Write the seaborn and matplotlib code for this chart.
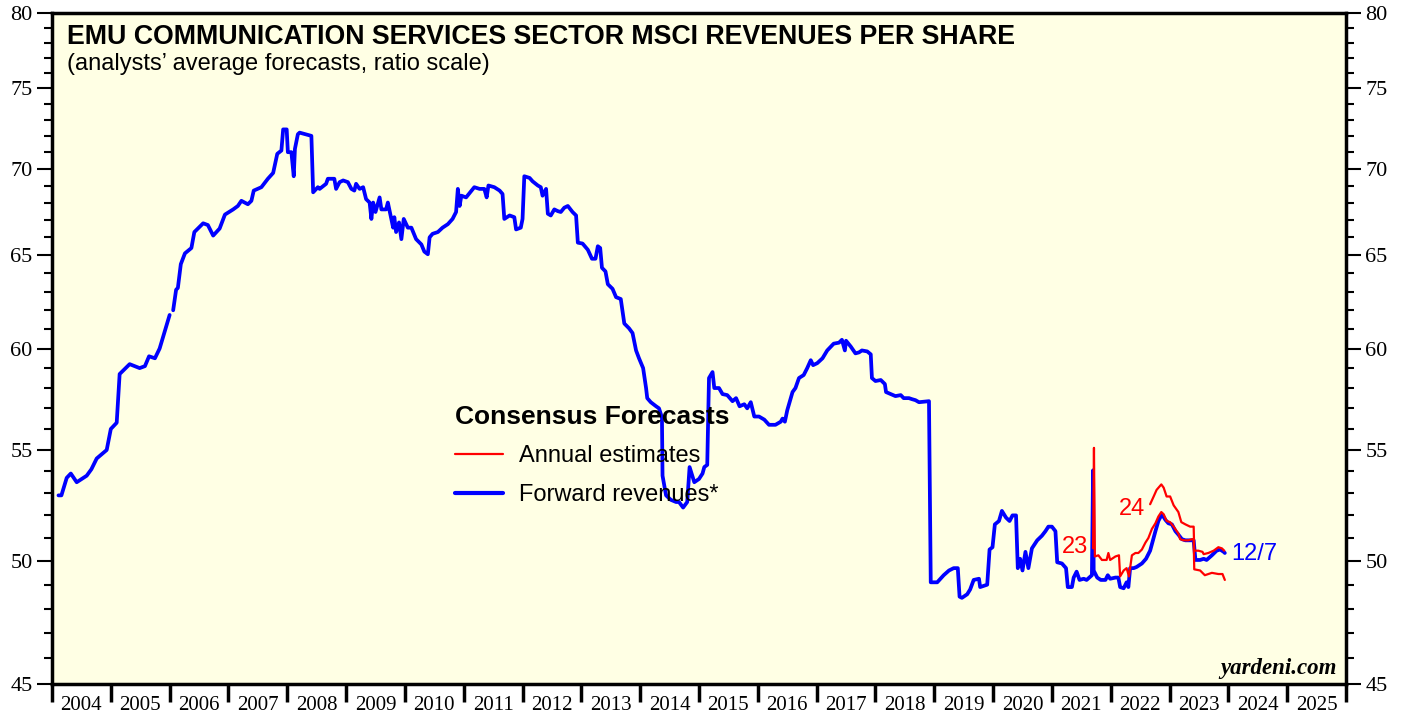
import numpy as np
import pandas as pd
import matplotlib.pyplot as plt
import seaborn as sns
from matplotlib.lines import Line2D
from matplotlib.ticker import FixedLocator, NullFormatter, FixedFormatter

sns.set_style("ticks")
plt.rcParams['font.family'] = ['Liberation Sans', 'DejaVu Sans']
plt.rcParams['text.color'] = 'black'
plt.rcParams['xtick.color'] = 'black'
plt.rcParams['ytick.color'] = 'black'

# forward revenues per share (weekly)
fwd_years = [2004.11, 2004.16, 2004.25, 2004.32, 2004.42, 2004.59, 2004.67, 2004.76, 2004.93, 2005.00,
             2005.10, 2005.15, 2005.32, 2005.49, 2005.58, 2005.65, 2005.75, 2005.83, 2006.00,
             2006.06, 2006.11, 2006.14, 2006.19, 2006.26, 2006.37, 2006.42, 2006.57, 2006.65, 2006.74,
             2006.85, 2006.94, 2007.08, 2007.16, 2007.22, 2007.33, 2007.39, 2007.43, 2007.56, 2007.67,
             2007.76, 2007.83, 2007.90, 2007.93, 2007.99, 2008.01, 2008.07, 2008.11, 2008.13, 2008.18,
             2008.21, 2008.41, 2008.44, 2008.52, 2008.55, 2008.66, 2008.69, 2008.80, 2008.83, 2008.89,
             2008.95, 2009.03, 2009.09, 2009.14, 2009.17, 2009.23, 2009.29, 2009.34, 2009.40, 2009.43,
             2009.46, 2009.50, 2009.57, 2009.60, 2009.68, 2009.71, 2009.77, 2009.80, 2009.82, 2009.85,
             2009.90, 2009.94, 2009.98, 2010.05, 2010.11, 2010.19, 2010.28, 2010.33, 2010.39, 2010.42,
             2010.47, 2010.56, 2010.64, 2010.73, 2010.81, 2010.87, 2010.90, 2010.93, 2010.96, 2011.04,
             2011.18, 2011.27, 2011.35, 2011.39, 2011.42, 2011.52, 2011.61, 2011.66, 2011.69, 2011.78,
             2011.86, 2011.89, 2011.97, 2012.00, 2012.03, 2012.12, 2012.17, 2012.26, 2012.31, 2012.34,
             2012.40, 2012.43, 2012.48, 2012.54, 2012.60, 2012.65, 2012.71, 2012.77, 2012.85, 2012.91,
             2012.94, 2013.02, 2013.11, 2013.18, 2013.24, 2013.28, 2013.32, 2013.35, 2013.41, 2013.45,
             2013.53, 2013.59, 2013.67, 2013.73, 2013.81, 2013.87, 2013.93, 2013.98, 2014.05, 2014.10,
             2014.12, 2014.18, 2014.27, 2014.32, 2014.37, 2014.38, 2014.44, 2014.52, 2014.61, 2014.66,
             2014.73, 2014.80, 2014.84, 2014.92, 2015.00, 2015.06, 2015.09, 2015.14, 2015.17, 2015.23,
             2015.26, 2015.34, 2015.40, 2015.48, 2015.57, 2015.63, 2015.69, 2015.77, 2015.82, 2015.88,
             2015.94, 2016.02, 2016.11, 2016.19, 2016.30, 2016.39, 2016.42, 2016.46, 2016.50, 2016.59,
             2016.64, 2016.70, 2016.78, 2016.84, 2016.90, 2016.94, 2017.01, 2017.10, 2017.18, 2017.29,
             2017.38, 2017.43, 2017.48, 2017.50, 2017.58, 2017.66, 2017.72, 2017.77, 2017.86, 2017.92,
             2017.94, 2018.00, 2018.09, 2018.16, 2018.18, 2018.26, 2018.34, 2018.43, 2018.48, 2018.57,
             2018.62, 2018.68, 2018.74, 2018.91, 2018.94, 2019.05, 2019.16, 2019.25, 2019.33, 2019.40,
             2019.43, 2019.47, 2019.56, 2019.61, 2019.67, 2019.76, 2019.78, 2019.84, 2019.90, 2019.94,
             2019.99, 2020.03, 2020.10, 2020.15, 2020.22, 2020.28, 2020.33, 2020.39, 2020.42, 2020.46,
             2020.50, 2020.55, 2020.60, 2020.66, 2020.75, 2020.83, 2020.89, 2020.94, 2021.00, 2021.06,
             2021.09, 2021.17, 2021.24, 2021.27, 2021.34, 2021.37, 2021.42, 2021.47, 2021.54, 2021.59,
             2021.68, 2021.70, 2021.71, 2021.77, 2021.83, 2021.91, 2021.95, 2021.99, 2022.08, 2022.13,
             2022.16, 2022.22, 2022.27, 2022.30, 2022.33, 2022.39, 2022.44, 2022.53, 2022.60, 2022.67,
             2022.76, 2022.81, 2022.87, 2022.93, 2022.98, 2023.04, 2023.10, 2023.15, 2023.21, 2023.27,
             2023.35, 2023.41, 2023.44, 2023.52, 2023.58, 2023.63, 2023.72, 2023.80, 2023.86, 2023.92,
             2023.94]
fwd_values = [52.9, 52.9, 53.7, 53.9, 53.5, 53.8, 54.1, 54.6, 55.0, 56.0,
              56.3, 58.7, 59.2, 59.0, 59.1, 59.6, 59.5, 60.0, 61.75,
              62.0, 63.1, 63.2, 64.5, 65.1, 65.4, 66.3, 66.8, 66.7, 66.1,
              66.5, 67.3, 67.6, 67.8, 68.1, 67.9, 68.1, 68.7, 68.9, 69.4,
              69.75, 70.9, 71.1, 72.4, 72.4, 71.0, 71.0, 69.55, 71.2, 72.1,
              72.2, 72.0, 68.6, 68.9, 68.8, 69.1, 69.4, 69.4, 68.8, 69.2,
              69.3, 69.2, 68.8, 68.7, 69.1, 68.8, 68.9, 68.2, 68.0, 67.05,
              68.0, 67.45, 68.3, 67.6, 67.6, 68.0, 67.05, 66.55, 67.15, 66.3,
              66.85, 65.9, 67.05, 66.55, 66.55, 65.9, 65.6, 65.2, 65.05, 66.0,
              66.2, 66.3, 66.55, 66.75, 67.05, 67.45, 68.8, 67.8, 68.4, 68.3,
              68.9, 68.8, 68.8, 68.3, 69.0, 68.9, 68.7, 68.5, 67.05, 67.25,
              67.15, 66.45, 66.55, 67.05, 69.55, 69.45, 69.25, 69.0, 68.9, 68.4,
              68.8, 67.35, 67.25, 67.6, 67.5, 67.45, 67.7, 67.8, 67.45, 67.25,
              65.7, 65.65, 65.3, 64.8, 64.8, 65.5, 65.4, 64.3, 64.1, 63.4,
              63.15, 62.7, 62.6, 61.3, 61.05, 60.8, 59.9, 59.5, 59.0, 58.0,
              57.5, 57.3, 57.1, 57.0, 56.55, 53.8, 52.9, 52.7, 52.6, 52.6,
              52.35, 52.6, 54.2, 53.5, 53.65, 53.9, 54.2, 54.3, 58.5, 58.8,
              58.0, 58.0, 57.7, 57.65, 57.35, 57.5, 57.1, 57.2, 57.0, 57.3,
              56.6, 56.6, 56.45, 56.2, 56.2, 56.35, 56.5, 56.35, 56.9, 57.8,
              58.0, 58.5, 58.65, 59.0, 59.4, 59.15, 59.25, 59.5, 59.9, 60.25,
              60.3, 60.45, 59.9, 60.4, 60.1, 59.75, 59.8, 59.9, 59.85, 59.7,
              58.5, 58.35, 58.4, 58.2, 57.8, 57.7, 57.6, 57.65, 57.5, 57.5,
              57.45, 57.4, 57.3, 57.35, 49.1, 49.1, 49.4, 49.6, 49.7, 49.7,
              48.5, 48.45, 48.6, 48.8, 49.2, 49.25, 48.9, 48.95, 49.0, 50.5,
              50.6, 51.6, 51.75, 52.2, 51.9, 51.75, 52.0, 52.0, 49.7, 50.1,
              49.6, 50.4, 49.7, 50.55, 50.9, 51.1, 51.3, 51.5, 51.5, 51.3,
              49.95, 49.9, 49.7, 48.9, 48.9, 49.3, 49.55, 49.2, 49.25, 49.2,
              49.4, 54.05, 49.6, 49.3, 49.2, 49.2, 49.4, 49.25, 49.3, 49.3,
              48.9, 48.85, 49.1, 48.9, 49.7, 49.7, 49.75, 49.9, 50.1, 50.45,
              51.3, 51.75, 52.05, 51.8, 51.65, 51.6, 51.3, 51.15, 50.95, 50.9,
              50.9, 50.9, 50.05, 50.05, 50.1, 50.05, 50.25, 50.45, 50.5, 50.4,
              50.35]
fwd_gap_after = 2006.0  # short break in the series in early 2006

# annual estimates
est23_years = [2021.70, 2021.715, 2021.73, 2021.79, 2021.85, 2021.93, 2021.96, 2021.99, 2022.08, 2022.14,
               2022.16, 2022.22, 2022.27, 2022.31, 2022.36, 2022.42, 2022.47, 2022.53, 2022.59, 2022.64,
               2022.70, 2022.76, 2022.81, 2022.86, 2022.90, 2022.95, 2023.01, 2023.07, 2023.15, 2023.18,
               2023.24, 2023.32, 2023.38, 2023.41, 2023.42, 2023.52, 2023.60, 2023.72, 2023.83, 2023.90,
               2023.94]
est23_values = [50.55, 55.1, 50.2, 50.25, 50.05, 50.05, 50.35, 50.05, 50.2, 50.25,
                49.35, 49.6, 49.7, 49.35, 50.25, 50.35, 50.35, 50.5, 50.8, 51.0,
                51.4, 51.65, 51.95, 52.15, 52.05, 51.75, 51.7, 51.5, 51.2, 50.95,
                50.9, 50.9, 50.95, 50.95, 49.65, 49.6, 49.4, 49.5, 49.45, 49.45,
                49.2]
est24_years = [2022.67, 2022.73, 2022.78, 2022.86, 2022.90, 2022.95, 2023.01, 2023.07, 2023.15, 2023.20,
               2023.27, 2023.35, 2023.41, 2023.42, 2023.49, 2023.56, 2023.58, 2023.66, 2023.75, 2023.83,
               2023.89, 2023.93]
est24_values = [52.5, 52.85, 53.15, 53.4, 53.25, 52.85, 52.85, 52.45, 52.15, 51.7,
                51.6, 51.5, 51.5, 50.45, 50.45, 50.4, 50.3, 50.35, 50.45, 50.6,
                50.55, 50.45]

year_labels = [str(y) for y in range(2004, 2026)]
y_major = [45, 50, 55, 60, 65, 70, 75, 80]

fwd = pd.DataFrame({'year': fwd_years, 'value': fwd_values})
fwd['seg'] = (fwd['year'] > fwd_gap_after).astype(int)
est = pd.concat([
    pd.DataFrame({'year': est23_years, 'value': est23_values, 'series': '23'}),
    pd.DataFrame({'year': est24_years, 'value': est24_values, 'series': '24'}),
])

fig = plt.figure(figsize=(14.07, 7.17), dpi=100)
ax = fig.add_axes([52 / 1407, 33 / 717, 1294 / 1407, 671 / 717])
ax.set_facecolor('#FFFFE4')

sns.lineplot(data=fwd, x='year', y='value', units='seg', estimator=None, sort=False,
             color='#0000FF', lw=2.7, ax=ax)
sns.lineplot(data=est, x='year', y='value', units='series', estimator=None, sort=False,
             color='#FF0000', lw=1.6, ax=ax)

ax.set_yscale('log')
ax.set_ylim(45, 80)
ax.set_xlim(2004, 2026)
ax.yaxis.set_major_locator(FixedLocator(y_major))
ax.yaxis.set_major_formatter(FixedFormatter([str(v) for v in y_major]))
ax.yaxis.set_minor_locator(FixedLocator([v for v in range(45, 81) if v % 5]))
ax.yaxis.set_minor_formatter(NullFormatter())
ax.tick_params(axis='y', which='both', left=True, right=True, labelleft=True, labelright=True,
               direction='out', width=1.5)
ax.tick_params(axis='y', which='major', length=11, labelsize=16, pad=3)
ax.tick_params(axis='y', which='minor', length=6)

ax.xaxis.set_major_locator(FixedLocator(list(range(2004, 2027))))
ax.xaxis.set_major_formatter(NullFormatter())
ax.xaxis.set_minor_locator(FixedLocator([y + 0.5 for y in range(2004, 2026)]))
ax.xaxis.set_minor_formatter(FixedFormatter(year_labels))
ax.tick_params(axis='x', which='major', direction='out', length=13, width=2.5)
ax.tick_params(axis='x', which='minor', length=0, labelsize=15, pad=9)
for lab in ax.get_xticklabels(minor=True) + ax.yaxis.get_ticklabels(which='both'):
    lab.set_family('Liberation Serif')
for lab in ax.yaxis.get_ticklabels(which='both') + ax.yaxis.get_ticklabels(which='both', minor=False):
    lab.set_family('Liberation Serif')
for t in ax.yaxis.get_major_ticks():
    t.label2.set_family('Liberation Serif')
ax.set_xlabel('')
ax.set_ylabel('')
for s in ax.spines.values():
    s.set_linewidth(2.5)
    s.set_color('black')

ax.text(0.0115, 0.984, 'EMU COMMUNICATION SERVICES SECTOR MSCI REVENUES PER SHARE',
        transform=ax.transAxes, fontsize=19.3, fontweight='bold', va='top', ha='left')
ax.text(0.0115, 0.94, '(analysts\u2019 average forecasts, ratio scale)',
        transform=ax.transAxes, fontsize=17, va='top', ha='left')

handles = [Line2D([], [], color='#FF0000', lw=1.6), Line2D([], [], color='#0000FF', lw=3)]
leg = ax.legend(handles, ['Annual estimates', 'Forward revenues*'], title='Consensus Forecasts',
                loc='upper left', bbox_to_anchor=(0.3045, 0.43), frameon=False, fontsize=17,
                title_fontproperties={'weight': 'bold', 'size': 19}, handlelength=2.0,
                handletextpad=0.7, labelspacing=0.7, borderaxespad=0)
leg._legend_box.align = 'left'

ax.text(2021.62, 50.6, '23', color='#FF0000', fontsize=17, ha='right', va='center')
ax.text(2022.59, 52.3, '24', color='#FF0000', fontsize=17, ha='right', va='center')
ax.text(2024.05, 50.3, '12/7', color='#0000FF', fontsize=17, ha='left', va='center')
ax.text(0.993, 0.008, 'yardeni.com', transform=ax.transAxes, fontsize=16.5,
        fontweight='bold', fontstyle='italic', family='Liberation Serif', ha='right', va='bottom')

fig.savefig('out.png', dpi=100)
